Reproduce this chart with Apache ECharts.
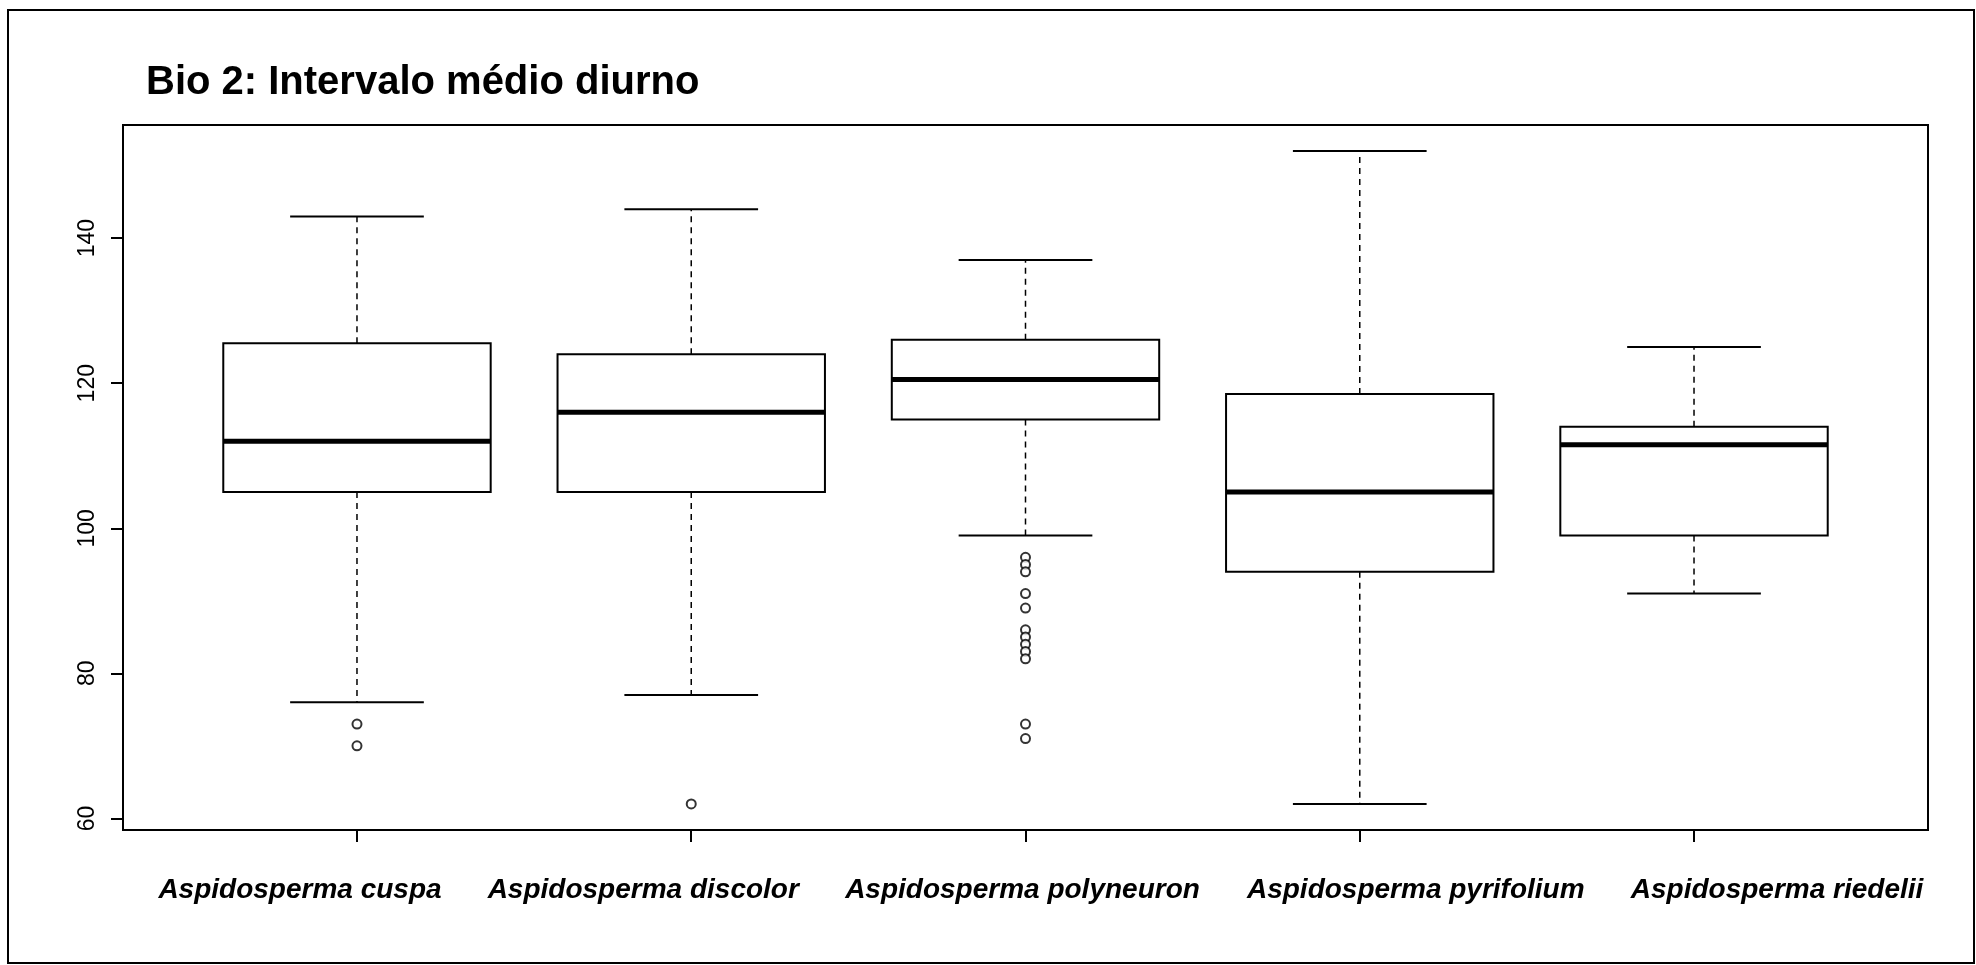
<!DOCTYPE html>
<html>
<head>
<meta charset="utf-8">
<script src="https://cdn.jsdelivr.net/npm/echarts@6/dist/echarts.min.js"></script>
<style>
html,body{margin:0;padding:0;background:#fff;}
#chart{width:1976px;height:965px;}
</style>
</head>
<body>
<div id="chart"></div>
<script>
const categories = ['Aspidosperma cuspa', 'Aspidosperma discolor', 'Aspidosperma polyneuron', 'Aspidosperma pyrifolium', 'Aspidosperma riedelii'];
// [position, lower whisker, Q1, median, Q3, upper whisker]
const boxStats = [
  [1, 76, 105, 112, 125.5, 143],
  [2, 77, 105, 116, 124, 144],
  [3, 99, 115, 120.5, 126, 137],
  [4, 62, 94, 105, 118.5, 152],
  [5, 91, 99, 111.5, 114, 125]
];
const outlierCusp = [73, 70];
const outlierDiscolor = [62];
const outlierPolyneuron = [96, 95, 94, 91, 89, 86, 85, 84, 83, 82, 73, 71];
const outlierPyrifolium = [];
const outlierRiedelii = [];
const yTicks = [60, 80, 100, 120, 140];
const xTicks = [1, 2, 3, 4, 5];

// layout only: horizontal nudge (px) of each category label, as in the original figure
const labelNudge = [-57, -48, -3, 56, 83];

const outlierGroups = [outlierCusp, outlierDiscolor, outlierPolyneuron, outlierPyrifolium, outlierRiedelii];
const outlierData = [];
outlierGroups.forEach((g, i) => g.forEach(v => outlierData.push([i + 1, v])));

const labelFont = {fontFamily: 'Liberation Sans', fontStyle: 'italic', fontWeight: 'bold', fontSize: 28, color: '#000'};
const rich = {};
labelNudge.forEach((d, i) => {
  rich['s' + i] = Object.assign({}, labelFont, {
    padding: d >= 0 ? [0, 0, 0, 2 * d] : [0, -2 * d, 0, 0]
  });
});

const chart = echarts.init(document.getElementById('chart'));

function renderBox(params, api) {
  const x = api.value(0);
  const lo = api.coord([x, api.value(1)]);
  const q1 = api.coord([x, api.value(2)]);
  const med = api.coord([x, api.value(3)]);
  const q3 = api.coord([x, api.value(4)]);
  const hi = api.coord([x, api.value(5)]);
  const halfBox = api.size([0.4, 0])[0];
  const halfCap = api.size([0.2, 0])[0];
  const cx = q1[0];
  const solid = {stroke: '#000', lineWidth: 2, fill: null};
  const dashed = {stroke: '#000', lineWidth: 1.5, lineDash: [6, 5], fill: null};
  return {
    type: 'group',
    children: [
      {type: 'line', shape: {x1: cx, y1: q3[1], x2: cx, y2: hi[1]}, style: dashed},
      {type: 'line', shape: {x1: cx, y1: q1[1], x2: cx, y2: lo[1]}, style: dashed},
      {type: 'line', shape: {x1: cx - halfCap, y1: hi[1], x2: cx + halfCap, y2: hi[1]}, style: solid},
      {type: 'line', shape: {x1: cx - halfCap, y1: lo[1], x2: cx + halfCap, y2: lo[1]}, style: solid},
      {type: 'rect', shape: {x: cx - halfBox, y: q3[1], width: 2 * halfBox, height: q1[1] - q3[1]}, style: {stroke: '#000', lineWidth: 2, fill: '#fff'}},
      {type: 'line', shape: {x1: cx - halfBox, y1: med[1], x2: cx + halfBox, y2: med[1]}, style: {stroke: '#000', lineWidth: 5}}
    ]
  };
}

chart.setOption({
  animation: false,
  backgroundColor: '#fff',
  title: {
    text: 'Bio 2: Intervalo médio diurno',
    left: 146,
    top: 63,
    padding: 0,
    textStyle: {fontFamily: 'Liberation Sans', fontWeight: 'bold', fontSize: 40, color: '#000'}
  },
  graphic: [{
    type: 'rect',
    shape: {x: 8, y: 10, width: 1966, height: 953},
    style: {stroke: '#000', lineWidth: 2, fill: null},
    silent: true
  }],
  grid: {
    left: 123, right: 48, top: 125, bottom: 135,
    show: true, borderColor: '#000', borderWidth: 2, backgroundColor: 'transparent'
  },
  xAxis: {
    type: 'value',
    min: 0.3, max: 5.7,
    axisLine: {show: false},
    splitLine: {show: false},
    axisTick: {show: true, customValues: xTicks, length: 12, lineStyle: {color: '#000', width: 2}},
    axisLabel: Object.assign({
      customValues: xTicks,
      margin: 46,
      hideOverlap: false,
      formatter: v => {
        const i = Math.round(v) - 1;
        return categories[i] ? '{s' + i + '|' + categories[i] + '}' : '';
      },
      rich: rich
    }, labelFont)
  },
  yAxis: {
    type: 'value',
    min: 58.4, max: 155.6,
    axisLine: {show: false},
    splitLine: {show: false},
    axisTick: {show: true, customValues: yTicks, length: 12, lineStyle: {color: '#000', width: 2}},
    axisLabel: {
      customValues: yTicks,
      rotate: 90,
      margin: 24,
      fontFamily: 'Liberation Sans', fontSize: 23, color: '#000'
    }
  },
  series: [
    {
      type: 'custom',
      renderItem: renderBox,
      encode: {x: 0, y: [1, 2, 3, 4, 5]},
      data: boxStats,
      z: 2
    },
    {
      type: 'scatter',
      data: outlierData,
      symbol: 'emptyCircle',
      symbolSize: 9,
      itemStyle: {color: '#000', borderColor: '#000', borderWidth: 1.5},
      z: 3
    }
  ]
});
</script>
</body>
</html>
